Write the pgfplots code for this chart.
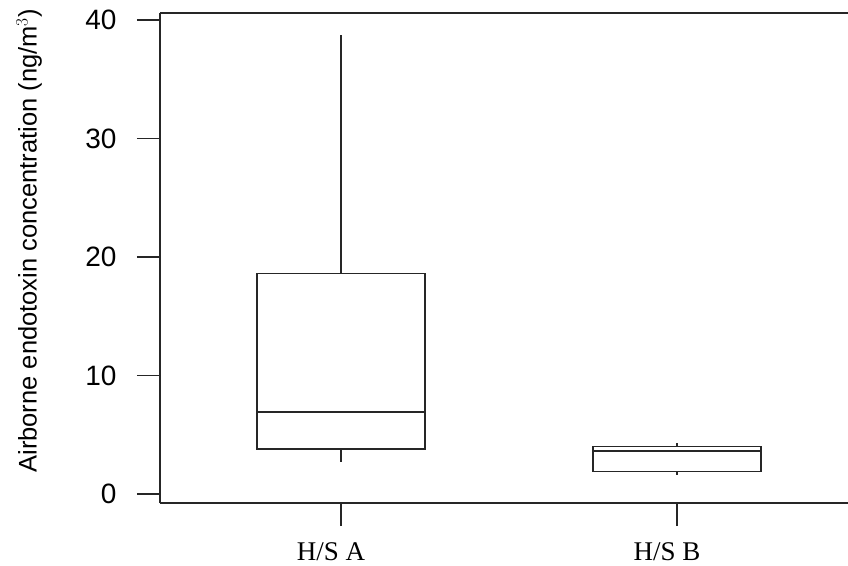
\documentclass[border=0pt]{standalone}
\usepackage{fontspec}
\setmainfont{Liberation Sans}
\newfontfamily\serif{Liberation Serif}
\usepackage{pgfplots}
\usepgfplotslibrary{statistics}
\pgfplotsset{compat=1.18}
\begin{document}
\begin{tikzpicture}
\begin{axis}[
  scale only axis,
  width=688pt, height=490pt,
  xmin=0.461, xmax=2.509,
  ymin=-0.76, ymax=40.59,
  axis x line*=bottom, axis y line*=left,
  axis line style={-, line width=1.5pt, black!85},
  every tick/.style={line width=1.5pt, black!85},
  tick align=outside,
  major tick length=23pt,
  xtick={1,2},
  xticklabels={H/S A, H/S B},
  xticklabel style={font=\serif\fontsize{27}{31}\selectfont, yshift=-13pt, xshift=-10pt},
  ytick={0,10,20,30,40},
  yticklabel style={font=\fontsize{28}{32}\selectfont, xshift=-17pt},
  /pgf/number format/assume math mode=true,
  ylabel={Airborne endotoxin concentration (ng/m$^{3}$)},
  ylabel style={font=\fontsize{25.5}{28}\selectfont, at={(axis description cs:-0.19,0.535)}, anchor=center, rotate=0},
  boxplot/draw direction=y,
  boxplot/box extend=0.5,
  boxplot/whisker extend=0,
  boxplot/every box/.style={line width=1.7pt, draw=black!85},
  boxplot/every whisker/.style={line width=1.7pt, draw=black!85},
  boxplot/every median/.style={line width=1.7pt, draw=black!85},
]
% H/S A
\addplot+[mark=none, black!85, line width=1.7pt, boxplot prepared={draw position=1,
  lower whisker=2.7, lower quartile=3.8, median=6.9,
  upper quartile=18.6, upper whisker=38.7}] coordinates {};
% H/S B
\addplot+[mark=none, black!85, line width=1.7pt, boxplot prepared={draw position=2,
  lower whisker=1.6, lower quartile=1.9, median=3.6,
  upper quartile=4.0, upper whisker=4.3}] coordinates {};
\draw[line width=1.5pt, black!85] (rel axis cs:0,1) -- (rel axis cs:1,1);
\end{axis}
\pgfresetboundingbox
\path[use as bounding box] (-160pt,-62pt) rectangle (688pt,503pt);
\end{tikzpicture}
\end{document}
